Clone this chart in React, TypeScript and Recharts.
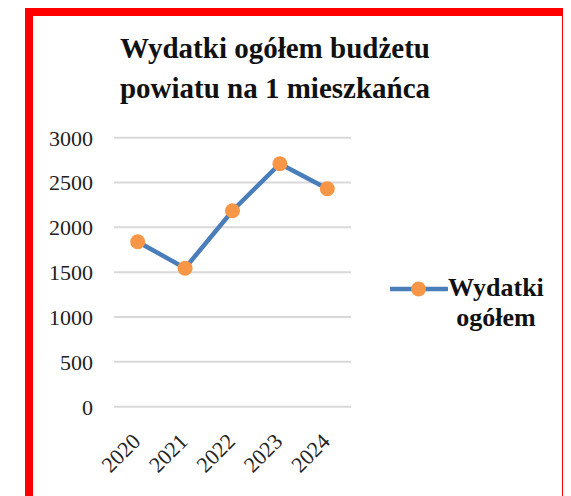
import { LineChart, Line, XAxis, YAxis, CartesianGrid, Legend } from 'recharts'

const years = ['2020', '2021', '2022', '2023', '2024']
const wydatki = [1840, 1545, 2185, 2710, 2430]
const yTicks = [0, 500, 1000, 1500, 2000, 2500, 3000]

const data = years.map((year, i) => ({ year, value: wydatki[i] }))

const SERIF = 'Liberation Serif, DejaVu Serif, Times New Roman, serif'
const LINE_COLOR = '#4a7ebb'
const DOT_COLOR = '#f79646'

function YearTick({ x, y, payload }: any) {
  return (
    <g transform={`translate(${x + 4},${y + 36})`}>
      <text transform="rotate(-45)" textAnchor="end" fontFamily={SERIF} fontSize={22} fill="#222">
        {payload.value}
      </text>
    </g>
  )
}

function LegendBox({ payload }: any) {
  const item = payload && payload[0]
  if (!item) return null
  return (
    <div style={{ display: 'flex', alignItems: 'flex-start', width: 170, paddingLeft: 39, boxSizing: 'border-box' }}>
      <svg width={58} height={30} style={{ flexShrink: 0 }}>
        <line x1={0} y1={16} x2={57} y2={16} stroke={LINE_COLOR} strokeWidth={4.5} strokeLinecap="round" />
        <circle cx={28.5} cy={16} r={7.5} fill={DOT_COLOR} />
      </svg>
      <div style={{ fontFamily: SERIF, fontWeight: 700, fontSize: 26, lineHeight: '30px', textAlign: 'center', color: '#111' }}>
        Wydatki
        <br />
        ogółem
      </div>
    </div>
  )
}

export default function App() {
  return (
    <div
      style={{
        position: 'relative',
        marginLeft: 17,
        width: 545,
        height: 500,
        border: '8px solid #ff0000',
        boxSizing: 'border-box',
        background: '#fff',
      }}
    >
      <div
        style={{
          position: 'absolute',
          left: 0,
          top: 12,
          width: 484,
          textAlign: 'center',
          fontFamily: SERIF,
          fontWeight: 700,
          fontSize: 29,
          lineHeight: '40px',
          color: '#111',
          zIndex: 2,
        }}
      >
        Wydatki ogółem budżetu
        <br />
        powiatu na 1 mieszkańca
      </div>
      <LineChart
        width={529}
        height={480}
        data={data}
        margin={{ top: 121.7, right: 41, bottom: 29.3, left: 0 }}
      >
        <CartesianGrid vertical={false} stroke="#d9d9d9" strokeWidth={2} />
        <XAxis
          dataKey="year"
          axisLine={false}
          tickLine={false}
          tickSize={0}
          tickMargin={0}
          height={60}
          interval={0}
          padding={{ left: 23.7, right: 23.7 }}
          tick={<YearTick />}
        />
        <YAxis
          domain={[0, 3000]}
          ticks={yTicks}
          width={81}
          axisLine={false}
          tickLine={false}
          tickMargin={15}
          tick={{ fontFamily: SERIF, fontSize: 22, fill: '#222' }}
        />
        <Legend
          layout="vertical"
          align="right"
          verticalAlign="middle"
          content={<LegendBox />}
          wrapperStyle={{ top: 257, width: 170 }}
        />
        <Line
          type="linear"
          dataKey="value"
          name="Wydatki ogółem"
          stroke={LINE_COLOR}
          strokeWidth={4.5}
          dot={{ r: 7.5, fill: DOT_COLOR, stroke: DOT_COLOR, strokeWidth: 0 }}
          activeDot={false}
          isAnimationActive={false}
        />
      </LineChart>
    </div>
  )
}
